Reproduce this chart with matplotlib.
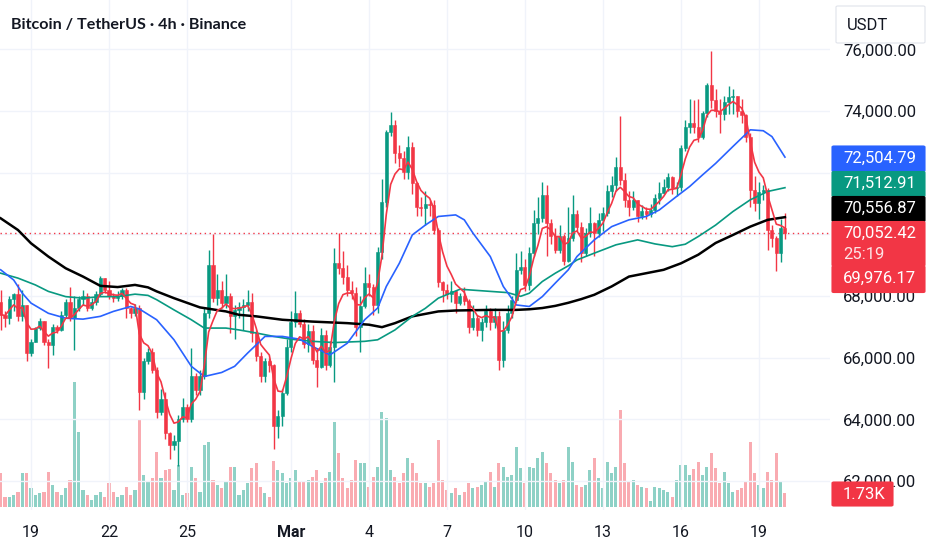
import numpy as np
import pandas as pd
import matplotlib
matplotlib.use("Agg")
import matplotlib.pyplot as plt
from matplotlib.patches import FancyBboxPatch

# 4h candles, index 0 = 19 Feb 00:00 (6 candles per day)
first_idx = -7
first_open = 67800
closes = [
    67400, 67300, 67900, 68050, 67350, 67700, 66150, 66500, 66950, 67200,
    66500, 66400, 67000, 66900, 67400, 67800, 67300, 67600, 67900, 68000,
    67600, 67800, 68050, 68600, 68200, 68000, 67950, 68000, 68200, 67600,
    67450, 67600, 64900, 65900, 66200,
    65600, 64250, 64650, 63550, 63170, 63300, 64000, 64400, 64000, 65400,
    64950, 65400, 67450, 69000, 67930, 68200, 67760, 68000, 67350, 67550,
    67650, 67700, 67800, 66800, 66050, 65400, 65900, 65750, 63800, 64100,
    64850, 66350,
    67150, 67450, 67100, 66450, 66850, 65930, 65700, 66740, 65770, 66350,
    69070, 68900, 68630, 68200, 68090, 67000, 67660, 68420, 68300, 67700,
    69440, 71060, 73330, 73550, 72630, 72460, 72030, 72840, 71650, 70900,
    70850, 71000, 70950,
    70150, 68470, 68200, 68050, 68150, 67770, 67990, 67850, 67010, 67280,
    66900, 67170, 67500, 67170, 67350, 65930, 66900, 67440, 67880, 68850,
    68950, 68360, 69390, 70360, 70520, 71280, 70360, 69930, 69500, 69930,
    69150,
    69880, 70650, 70250, 69400, 70040, 70360, 70040, 70470, 70700, 71390,
    71600, 72200, 71770, 71120, 70900, 71100, 70580, 70750, 70650, 70800,
    71170, 71340, 71550, 71870, 71500, 71550, 72790, 73490, 73600, 73490,
    73170, 73920, 74840,
    74360, 74000, 73900, 74300, 74460, 74500, 74000, 73870, 73170, 71440,
    71010, 71380, 71450, 70140, 69870, 69390, 70200, 70052.42,
]
highs = [
    68200, 67500, 68000, 68100, 68400, 68200, 67700, 66600, 67000, 67300,
    67200, 66600, 67100, 67050, 67500, 67900, 68300, 68000, 68000, 68200,
    68100, 67950, 68150, 68650, 68550, 68500, 68100, 68150, 68250, 68250,
    67650, 67750, 67700, 66000, 66300,
    66300, 65700, 65000, 64900, 63600, 63500, 64150, 64700, 64500, 66300,
    65500, 65600, 67600, 69500, 70000, 68700, 68500, 68700, 68100, 67700,
    67800, 67900, 68200, 68100, 66900, 66200, 66000, 66000, 65800, 64300,
    65000, 66600,
    67500, 68150, 67550, 67250, 67100, 67050, 66300, 66950, 66900, 66550,
    69550, 70050, 69450, 69000, 68500, 68300, 68000, 68950, 68700, 68400,
    69600, 71800, 73400, 73980, 73700, 72900, 72700, 73200, 73000, 71700,
    71200, 71400, 71100,
    71100, 70200, 68500, 68400, 68500, 68200, 68100, 68300, 67900, 67700,
    67400, 67300, 67700, 67600, 67600, 67500, 67200, 67700, 68000, 69400,
    69450, 69200, 69600, 70800, 71200, 71700, 71600, 70500, 70200, 70300,
    70000,
    70900, 71280, 70800, 70400, 70200, 70900, 70400, 70700, 70900, 71600,
    71900, 72500, 73850, 72000, 71400, 71400, 71100, 70950, 70900, 71000,
    71300, 71700, 71800, 72000, 71900, 71700, 72900, 73700, 74400, 74350,
    74400, 74000, 74900,
    75950, 74700, 74400, 74500, 74800, 74700, 74500, 74400, 73900, 73300,
    71900, 71700, 71600, 71500, 70300, 69950, 70500, 70700,
]
lows = [
    66900, 67000, 67100, 67500, 67200, 67200, 65900, 66050, 66500, 66900,
    66400, 65650, 66100, 66800, 66850, 67300, 67200, 66250, 67500, 67700,
    67500, 67550, 67700, 68000, 68100, 67900, 67800, 67850, 67900, 67300,
    67300, 67350, 64300, 64650, 65800,
    65500, 64050, 64150, 63350, 62700, 63000, 62500, 63900, 63900, 63900,
    64800, 64800, 65300, 67300, 67800, 67700, 67600, 67600, 66800, 66600,
    67300, 66900, 67500, 66500, 65900, 65200, 65200, 65550, 63050, 63400,
    63800, 64800,
    66200, 67000, 67000, 66300, 66200, 65800, 65050, 65650, 65600, 65700,
    65200, 68700, 68400, 68000, 67900, 66700, 66200, 67600, 68000, 67400,
    67450, 69200, 70900, 73200, 72300, 72200, 71800, 71800, 71300, 70600,
    70600, 70300, 70600,
    70000, 68300, 67800, 67900, 67800, 67450, 67700, 67700, 66800, 66900,
    66700, 66550, 67000, 66900, 66950, 65600, 65700, 66800, 67300, 67800,
    68700, 68150, 68200, 69300, 70000, 70400, 69300, 69700, 69400, 69400,
    69000,
    69100, 69800, 70100, 69100, 69300, 69900, 69300, 69900, 70100, 70600,
    71200, 71400, 71600, 70900, 70600, 70800, 70400, 70500, 70500, 70550,
    70700, 71000, 71300, 71400, 71300, 71250, 71400, 72700, 73300, 73300,
    73000, 73100, 73800,
    74100, 73800, 73300, 73700, 73900, 73900, 73800, 73600, 73000, 70900,
    70750, 70500, 71100, 69500, 69600, 68800, 69100, 69850,
]
# volume in thousands
volumes = [
    4.2, 1.2, 1.2, 1.5, 1.9, 4.2, 4.2, 2.4, 1.5, 1.7, 1.9, 4.3, 2.7, 1.9, 1.5,
    2.4, 3.3, 15.5, 9.3, 2.1, 1.5, 0.9, 1.5, 1.9, 1.2, 3.0, 1.9, 1.2, 1.5, 2.5,
    1.5, 2.1, 10.8, 4.0, 3.1,
    3.6, 6.8, 3.6, 4.6, 4.7, 2.1, 5.2, 1.5, 1.7, 5.0, 3.6, 1.9, 7.7, 8.1, 3.3,
    2.7, 2.4, 3.1, 5.0, 5.0, 1.5, 2.1, 3.0, 4.8, 5.5, 2.5, 1.7, 1.2, 5.7, 4.6,
    4.2, 3.0,
    3.6, 4.6, 3.1, 3.1, 3.3, 3.7, 4.6, 3.0, 3.6, 4.3, 10.5, 6.7, 3.6, 2.4, 3.3,
    5.8, 5.5, 5.5, 2.5, 3.7, 5.0, 11.8, 11.0, 4.6, 3.7, 3.0, 4.2, 6.1, 5.5, 4.2,
    3.0, 3.0, 2.5,
    3.0, 8.3, 3.3, 2.1, 1.7, 2.4, 1.5, 1.9, 3.0, 2.4, 2.5, 2.7, 3.1, 4.3, 2.5,
    5.5, 5.0, 3.7, 4.0, 7.4, 4.8, 3.0, 5.0, 4.8, 6.1, 6.8, 5.5, 4.2, 3.3, 3.0,
    3.3,
    7.4, 5.6, 2.7, 2.5, 2.7, 4.6, 6.1, 3.6, 2.4, 5.6, 4.2, 5.0, 12.0, 5.5, 3.1,
    3.3, 2.7, 2.5, 2.4, 0.7, 2.5, 2.4, 2.1, 1.9, 1.2, 3.3, 5.2, 5.2, 4.0, 4.7,
    5.6, 4.0, 5.0,
    6.7, 4.8, 3.0, 4.3, 3.0, 1.9, 2.1, 2.4, 3.1, 8.1, 4.2, 2.7, 2.4, 4.3, 3.3,
    6.7, 3.1, 1.73,
]

# moving averages (candle index, price)
blue_i = [-7, -4, -2, 0, 4, 8, 12, 16, 19, 23, 25, 29, 33, 37, 40, 44, 47, 50,
          54, 58, 62, 65, 69, 73, 77, 80, 82, 85, 88, 91, 94, 98, 100, 102, 106,
          109, 112, 115, 118, 121, 124, 126, 130, 134, 138, 142, 145, 149, 152,
          155, 158, 162, 166, 169, 171, 174]
blue_v = [68850, 68520, 68090, 67770, 67440, 67280, 67250, 67340, 67500, 67660,
          67580, 67230, 66580, 65720, 65390, 65520, 65720, 66150, 66690, 66690,
          66600, 66360, 66090, 66470, 67230, 67610, 68310, 69060, 69980, 70300,
          70580, 70630, 70470, 70040, 69280, 68310, 67710, 67660, 67980, 68420,
          68850, 69280, 69820, 70250, 70470, 70580, 70790, 71230, 71550, 71930,
          72300, 72850, 73390, 73360, 73170, 72504.79]
green_i = [-7, -3, 1, 4, 8, 12, 16, 20, 24, 27, 29, 33, 37, 40, 45, 48, 52, 56,
           60, 65, 70, 77, 80, 84, 88, 91, 94, 99, 106, 110, 113, 115, 118, 121,
           124, 126, 130, 135, 140, 144, 148, 151, 154, 158, 162, 166, 170, 174]
green_v = [68740, 68580, 68360, 68150, 67980, 67930, 67980, 67980, 68060, 68020,
           67880, 67550, 67230, 66960, 66960, 66900, 66800, 66690, 66600, 66530,
           66490, 66530, 66580, 66900, 67340, 67600, 67930, 68220, 68150, 68110,
           67990, 68090, 68470, 68740, 68980, 69170, 69390, 69660, 69820, 69690,
           69600, 69680, 69930, 70300, 70740, 71120, 71390, 71512.91]
black_i = [-7, -3, 0, 4, 8, 12, 16, 20, 24, 27, 29, 33, 39, 45, 48, 52, 58, 65,
           73, 78, 81, 84, 88, 91, 94, 98, 106, 112, 115, 118, 121, 124, 127,
           130, 134, 138, 142, 146, 150, 154, 158, 162, 166, 170, 174]
black_v = [70520, 70140, 69710, 69280, 68900, 68630, 68330, 68290, 68360, 68280,
           68150, 67930, 67630, 67500, 67390, 67340, 67230, 67170, 67120, 67070,
           66990, 67120, 67340, 67420, 67500, 67530, 67550, 67550, 67570, 67610,
           67680, 67780, 67900, 68040, 68310, 68630, 68740, 68850, 69060, 69340,
           69720, 69980, 70250, 70470, 70556.87]
red_ma_last = 69976.17
countdown = "25:19"

day_idx = [0, 18, 36, 60, 78, 96, 114, 132, 150, 168]
day_lbl = ["19", "22", "25", "Mar", "4", "7", "10", "13", "16", "19"]
price_ticks = list(range(62000, 76001, 2000))
# levels whose scale text sits under the coloured value tags
hidden_ticks = [70000, 72000]

UP = "#089981"
DOWN = "#F23645"
BLUE = "#2962FF"
TXT = "#131722"
GRID = "#F0F3FA"

W, H = 932, 550


def fx(x):
    return x / W


def fy(y):
    return 1 - y / H


closes = np.array(closes, dtype=float)
opens = np.concatenate([[first_open], closes[:-1]])
highs = np.maximum(np.array(highs, dtype=float), np.maximum(opens, closes))
lows = np.minimum(np.array(lows, dtype=float), np.minimum(opens, closes))
idx = np.arange(first_idx, first_idx + len(closes))
up = closes >= opens
cols = np.where(up, UP, DOWN)
red_ma = pd.Series(closes).ewm(span=5, adjust=False).mean().values

fig = plt.figure(figsize=(W / 100, H / 100), dpi=100)
ax = fig.add_axes([0, 40 / H, 830 / W, 510 / H])
vax = ax.twinx()
ax.set_zorder(vax.get_zorder() + 1)
ax.patch.set_visible(False)

# volume
vcols = np.where(up, "#8ED1C6", "#F9ABB1")
vax.bar(idx, volumes, width=0.7, color=vcols, linewidth=0)
vax.set_ylim(-0.37, 62.9)
vax.set_yticks([])
for s in vax.spines.values():
    s.set_visible(False)

# grid
for p in price_ticks:
    ax.axhline(p, color=GRID, lw=1, zorder=0)
for d in day_idx:
    ax.axvline(d, color=GRID, lw=1, zorder=0)

# candles
ax.vlines(idx, lows, highs, colors=cols, lw=1, zorder=2)
ax.bar(idx, np.abs(closes - opens), bottom=np.minimum(opens, closes), width=0.7,
       color=cols, edgecolor=cols, linewidth=0.4, zorder=3)

# moving averages
ax.plot(black_i, black_v, color="black", lw=1.8, zorder=4)
ax.plot(green_i, green_v, color=UP, lw=1.2, zorder=4)
ax.plot(blue_i, blue_v, color=BLUE, lw=1.2, zorder=4)
ax.plot(idx, red_ma, color=DOWN, lw=1.2, zorder=5)

# last price line
ax.axhline(closes[-1], color=DOWN, lw=1, ls=(0, (1, 2.5)), zorder=1)

ax.set_xlim(-31 / 4.333, (830 - 31) / 4.333)
ax.set_ylim(61060, 77600)
ax.set_xticks(day_idx)
ax.set_xticklabels(day_lbl, fontsize=11.5, color=TXT, family="Roboto")
for t in ax.get_xticklabels():
    if t.get_text() == "Mar":
        t.set_fontweight("bold")
ax.yaxis.tick_right()
ax.set_yticks(price_ticks)
ax.set_yticklabels(["" if p in hidden_ticks else f"{p:,.2f}" for p in price_ticks],
                   fontsize=12, color=TXT, family="Roboto")
ax.tick_params(axis="y", length=0, pad=9.4)
ax.tick_params(axis="x", length=0, pad=11)
for s in ax.spines.values():
    s.set_visible(False)


def box(x0, y0, x1, y1, fc, ec=None):
    fig.patches.append(FancyBboxPatch(
        (fx(x0), fy(y1)), fx(x1 - x0), (y1 - y0) / H,
        boxstyle="round,pad=0,rounding_size=0.002", transform=fig.transFigure,
        fc=fc, ec=ec or fc, lw=0.8, zorder=10))


def label(x, y, s, color="white", **kw):
    fig.text(fx(x), fy(y), s, color=color, fontsize=12, family="Roboto",
             va="center", ha="left", zorder=11, **kw)


# price labels on the scale
box(832, 146, 925, 171.5, BLUE)
label(843, 158.5, f"{blue_v[-1]:,.2f}")
box(832, 171.5, 925, 196.5, UP)
label(843, 183.5, f"{green_v[-1]:,.2f}")
box(832, 196.5, 925, 221.5, "black")
label(843, 208.5, f"{black_v[-1]:,.2f}")
box(832, 221.5, 925, 266, DOWN)
label(843, 233.5, f"{closes[-1]:,.2f}")
label(843, 254.5, countdown, color="#FDE3E5")
box(832, 266, 925, 292.5, DOWN)
label(843, 278.5, f"{red_ma_last:,.2f}")

# volume label
box(832, 482, 893, 506, DOWN)
label(843, 494.5, f"{volumes[-1]:.2f}K")

# currency button
box(836, 6, 925, 43, "white", ec="#E0E3EB")
fig.text(fx(847), fy(25), "USDT", color=TXT, fontsize=12, family="Roboto",
         va="center", ha="left", zorder=11)

fig.text(fx(11), fy(25), "Bitcoin / TetherUS · 4h · Binance", color=TXT,
         fontsize=11.6, fontweight="bold", family="Lato", va="center",
         ha="left")

fig.savefig("out.png", dpi=100, facecolor="white")
